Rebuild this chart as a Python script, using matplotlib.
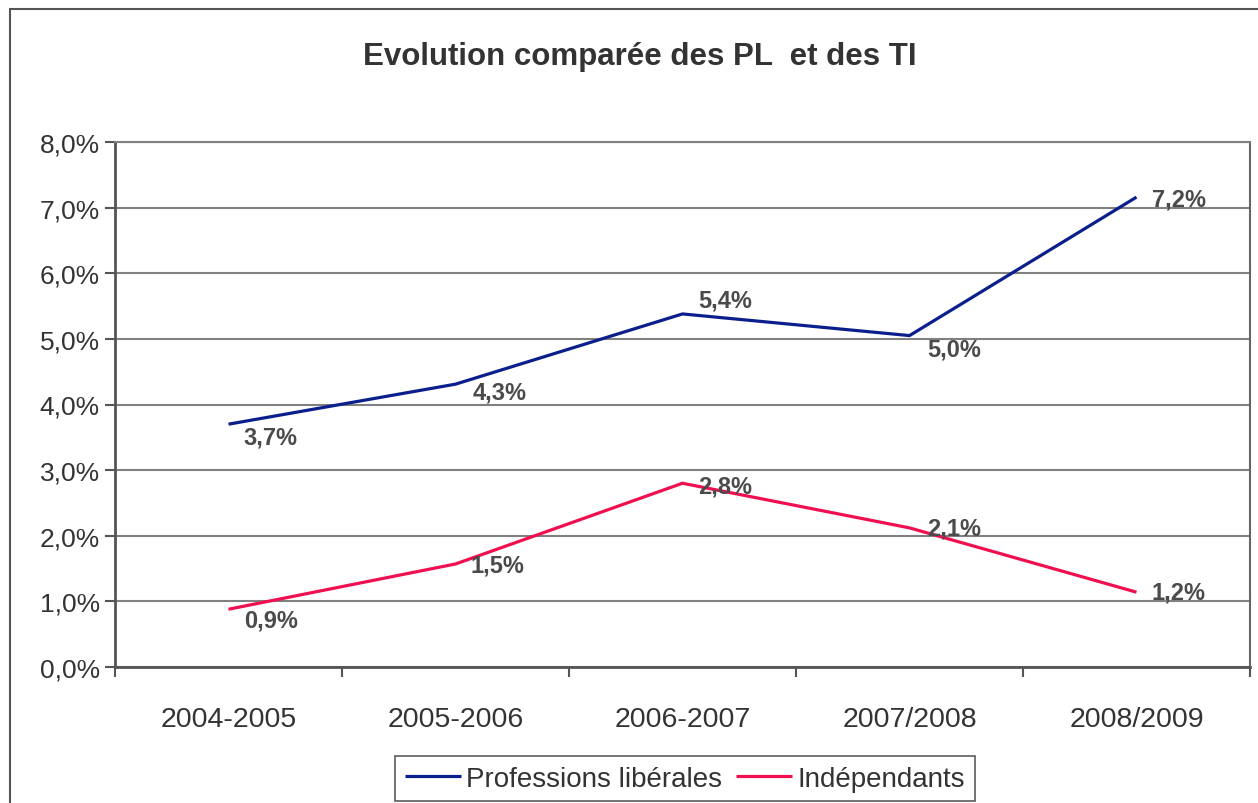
import numpy as np
import matplotlib.pyplot as plt
from matplotlib.patches import Rectangle

plt.rcParams['font.family'] = ['Liberation Sans', 'DejaVu Sans']

# données
periodes = ["2004-2005", "2005-2006", "2006-2007", "2007/2008", "2008/2009"]
pl_valeurs = [3.70, 4.31, 5.38, 5.05, 7.16]
ti_valeurs = [0.88, 1.57, 2.80, 2.12, 1.14]
pl_etiquettes = ["3,7%", "4,3%", "5,4%", "5,0%", "7,2%"]
ti_etiquettes = ["0,9%", "1,5%", "2,8%", "2,1%", "1,2%"]
y_ticks = [0, 1, 2, 3, 4, 5, 6, 7, 8]

# décalage des étiquettes (points)
pl_decalage = [(11, -9), (12, -6), (11, 10), (13, -10), (11, -1)]
ti_decalage = [(11, -8), (11, -1), (11, -2), (13, 0), (11, 0)]

fig = plt.figure(figsize=(12.58, 8.04), dpi=100)
ax = fig.add_axes([115 / 1258, 1 - 668 / 804, (1250 - 115) / 1258, (668 - 143) / 804])

x = np.arange(len(periodes))
ax.plot(x, pl_valeurs, color='#0b1f8c', lw=2.3, solid_capstyle='butt', zorder=3,
        label="Professions libérales")
ax.plot(x, ti_valeurs, color='#f01050', lw=2.3, solid_capstyle='butt', zorder=3,
        label="Indépendants")

for xi, v, t, d in zip(x, pl_valeurs, pl_etiquettes, pl_decalage):
    ax.annotate(t, (xi, v), xytext=d, textcoords='offset points', ha='left', va='center',
                fontsize=17, fontweight='bold', color='#4a4a4a', zorder=4)
for xi, v, t, d in zip(x, ti_valeurs, ti_etiquettes, ti_decalage):
    ax.annotate(t, (xi, v), xytext=d, textcoords='offset points', ha='left', va='center',
                fontsize=17, fontweight='bold', color='#4a4a4a', zorder=4)

ax.set_xlim(-0.5, len(periodes) - 0.5)
ax.set_ylim(0, 8)
ax.set_yticks(y_ticks)
ax.set_yticklabels([f"{v},0%" for v in y_ticks])
ax.set_xticks(x)
ax.set_xticklabels(periodes)
ax.set_xticks(np.arange(len(periodes) + 1) - 0.5, minor=True)
ax.tick_params(axis='x', which='major', length=0, pad=28, labelsize=20.5, labelcolor='#333333')
ax.tick_params(axis='x', which='minor', length=7, width=1.5, color='#555555', direction='out')
ax.tick_params(axis='y', length=7, width=1.5, color='#555555', labelsize=19,
               labelcolor='#333333', pad=4)

ax.grid(axis='y', color='#808080', lw=1.5, zorder=1)
ax.set_axisbelow(True)
for s in ['left', 'bottom']:
    ax.spines[s].set_color('#555555')
    ax.spines[s].set_linewidth(2)
ax.spines['top'].set_color('#808080')
ax.spines['top'].set_linewidth(1.5)
ax.spines['right'].set_color('#666666')
ax.spines['right'].set_linewidth(1.5)

fig.text(640 / 1258, 1 - 57 / 804, "Evolution comparée des PL  et des TI", ha='center',
         va='center', fontsize=22.5, fontweight='bold', color='#333333')

# cadre du graphique
fig.patches.append(Rectangle((10 / 1258, -0.1), 1.2, 1 - 10 / 804 + 0.1,
                             transform=fig.transFigure, fill=False, ec='#555555', lw=1.5))

leg = fig.legend(loc='upper center', bbox_to_anchor=(685 / 1258, 1 - 757 / 804), ncol=2,
                 frameon=True, fancybox=False, fontsize=20, handlelength=2.0,
                 handletextpad=0.2, columnspacing=0.5, borderpad=0.35, borderaxespad=0)
leg.get_frame().set_edgecolor('#333333')
leg.get_frame().set_linewidth(1.2)
for t in leg.get_texts():
    t.set_color('#333333')

fig.savefig("out.png", dpi=100)
